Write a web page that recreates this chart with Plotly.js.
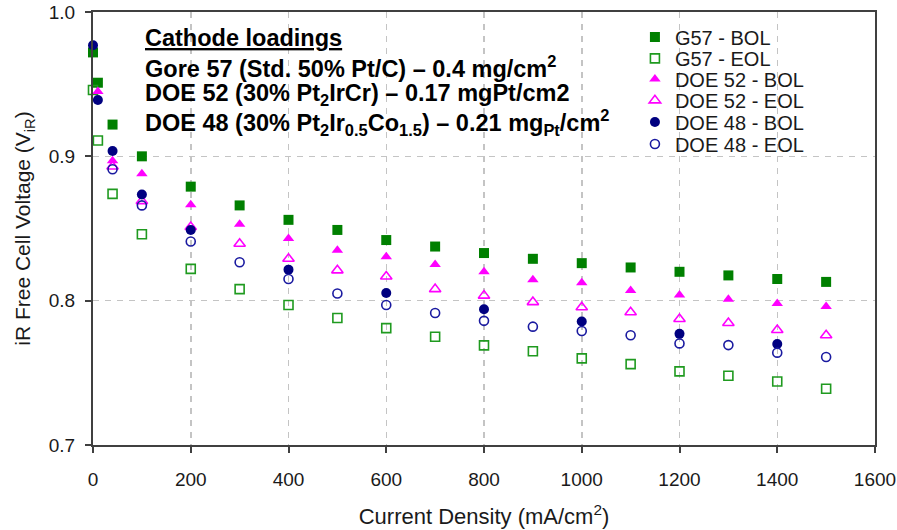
<!DOCTYPE html>
<html>
<head>
<meta charset="utf-8">
<script src="https://cdn.plot.ly/plotly-3.0.1.min.js"></script>
<style>
  html, body { margin: 0; padding: 0; background: #fff; }
  #chart { width: 897px; height: 530px; }
</style>
</head>
<body>
<div id="chart"></div>
<script>
// Polarization curves: IR-free cell voltage vs current density,
// beginning-of-life (BOL) and end-of-life (EOL) for three cathodes.

const xFull = [0, 10, 40, 100, 200, 300, 400, 500, 600, 700, 800, 900, 1000, 1100, 1200, 1300, 1400, 1500];

const g57BolY = [0.972, 0.951, 0.922, 0.900, 0.879, 0.866, 0.856, 0.849, 0.842, 0.8375, 0.833, 0.829, 0.826, 0.823, 0.820, 0.8175, 0.815, 0.813];
const g57EolY = [0.946, 0.911, 0.874, 0.846, 0.822, 0.808, 0.797, 0.788, 0.781, 0.775, 0.769, 0.765, 0.760, 0.756, 0.751, 0.748, 0.744, 0.739];

const doe52BolX = [10, 40, 100, 200, 300, 400, 500, 600, 700, 800, 900, 1000, 1100, 1200, 1300, 1400, 1500];
const doe52BolY = [0.945, 0.897, 0.888, 0.8665, 0.853, 0.843, 0.835, 0.8305, 0.825, 0.820, 0.8145, 0.8125, 0.807, 0.804, 0.801, 0.798, 0.796];

const doe52EolX = [40, 100, 200, 300, 400, 500, 600, 700, 800, 900, 1000, 1100, 1200, 1300, 1400, 1500];
const doe52EolY = [0.893, 0.869, 0.851, 0.8394, 0.829, 0.821, 0.8167, 0.808, 0.8035, 0.799, 0.7954, 0.792, 0.7873, 0.7845, 0.7797, 0.776];

const doe48BolX = [0, 10, 40, 100, 200, 400, 600, 800, 1000, 1200, 1400];
const doe48BolY = [0.977, 0.939, 0.9037, 0.8735, 0.849, 0.8215, 0.8053, 0.794, 0.7856, 0.777, 0.770];

const doe48EolX = [40, 100, 200, 300, 400, 500, 600, 700, 800, 900, 1000, 1100, 1200, 1300, 1400, 1500];
const doe48EolY = [0.891, 0.866, 0.841, 0.8266, 0.815, 0.805, 0.797, 0.7915, 0.786, 0.782, 0.779, 0.776, 0.7704, 0.7692, 0.764, 0.761];

const seriesNames = ['G57 - BOL', 'G57 - EOL', 'DOE 52 - BOL', 'DOE 52 - EOL', 'DOE 48 - BOL', 'DOE 48 - EOL'];

const loadingLines = [
  '<u>Cathode loadings</u>',
  'Gore 57 (Std. 50% Pt/C) – 0.4 mg/cm<sup>2</sup>',
  'DOE 52 (30% Pt<sub>2</sub>IrCr) – 0.17 mgPt/cm2',
  'DOE 48 (30% Pt<sub>2</sub>Ir<sub>0.5</sub>Co<sub>1.5</sub>) – 0.21 mg<sub>Pt</sub>/cm<sup>2</sup>'
];

const GREEN = '#008000';
const GREEN_OPEN = '#1f9a1f';
const PINK = '#ff00ff';
const NAVY = '#000080';
const NAVY_OPEN = '#1a1aa0';

const FONT = 'Arial, "Liberation Sans", sans-serif';
const TEXT = '#1a1a1a';
const FRAME = '#404040';
const GRID = '#c4c4c4';
const LEGEND_SIZE = 20;

// each series gets its own one-row legend so the rows sit tightly stacked
const legendIds = ['legend', 'legend2', 'legend3', 'legend4', 'legend5', 'legend6'];

function pts(i, x, y, symbol, color, size, lineWidth) {
  return {
    type: 'scatter', mode: 'markers', name: seriesNames[i], x: x, y: y,
    legend: legendIds[i],
    marker: { symbol: symbol, color: color, size: size,
              line: { color: color, width: lineWidth } },
    cliponaxis: false
  };
}

const traces = [
  pts(0, xFull, g57BolY, 'square', GREEN, 10, 0),
  pts(1, xFull, g57EolY, 'square-open', GREEN_OPEN, 9, 1.6),
  pts(2, doe52BolX, doe52BolY, 'triangle-up', PINK, 10, 0),
  pts(3, doe52EolX, doe52EolY, 'triangle-up-open', PINK, 10, 1.6),
  pts(4, doe48BolX, doe48BolY, 'circle', NAVY, 10, 0),
  pts(5, doe48EolX, doe48EolY, 'circle-open', NAVY_OPEN, 9, 1.6)
];

// text block of cathode loadings, one annotation per line
const annY = [0.94, 0.874, 0.81, 0.744];
const annotations = loadingLines.map((t, i) => ({
  xref: 'paper', yref: 'paper', x: 0.0635, y: annY[i],
  xanchor: 'left', yanchor: 'middle', showarrow: false,
  text: '<b>' + t + '</b>',
  font: { family: FONT, size: 23.5, color: '#000' }
}));

const legendRowY = [0.942, 0.893, 0.845, 0.796, 0.746, 0.695];

const layout = {
  width: 897, height: 530,
  margin: { l: 93, r: 22, t: 12, b: 85 },
  paper_bgcolor: '#fff', plot_bgcolor: '#fff',
  font: { family: FONT, color: TEXT, size: LEGEND_SIZE },
  showlegend: true,
  xaxis: {
    range: [0, 1600], dtick: 200, tick0: 0,
    showline: true, linecolor: FRAME, linewidth: 2, mirror: true,
    ticks: 'outside', ticklen: 6, tickwidth: 2, tickcolor: FRAME,
    ticklabelstandoff: 10,
    showgrid: true, gridcolor: GRID, gridwidth: 1.5, griddash: '6px,6px',
    zeroline: false,
    tickfont: { family: FONT, size: 19, color: TEXT },
    title: { text: 'Current Density (mA/cm<sup>2</sup>)', font: { family: FONT, size: 22, color: TEXT }, standoff: 20 }
  },
  yaxis: {
    range: [0.7, 1.0], dtick: 0.1, tick0: 0.7, tickformat: '.1f',
    showline: true, linecolor: FRAME, linewidth: 2, mirror: true,
    ticks: 'outside', ticklen: 6, tickwidth: 2, tickcolor: FRAME,
    ticklabelstandoff: 6,
    showgrid: true, gridcolor: GRID, gridwidth: 1.5, griddash: '6px,6px',
    zeroline: false,
    tickfont: { family: FONT, size: 19, color: TEXT },
    title: { text: 'iR Free Cell Voltage (V<sub>iR</sub>)', font: { family: FONT, size: 21, color: TEXT }, standoff: 12 }
  },
  annotations: annotations
};

legendIds.forEach((id, i) => {
  layout[id] = {
    x: 0.693, y: legendRowY[i], xanchor: 'left', yanchor: 'middle',
    bgcolor: 'rgba(0,0,0,0)', borderwidth: 0,
    font: { family: FONT, size: LEGEND_SIZE, color: TEXT }
  };
});

Plotly.newPlot('chart', traces, layout, { staticPlot: true, displayModeBar: false });
</script>
</body>
</html>
